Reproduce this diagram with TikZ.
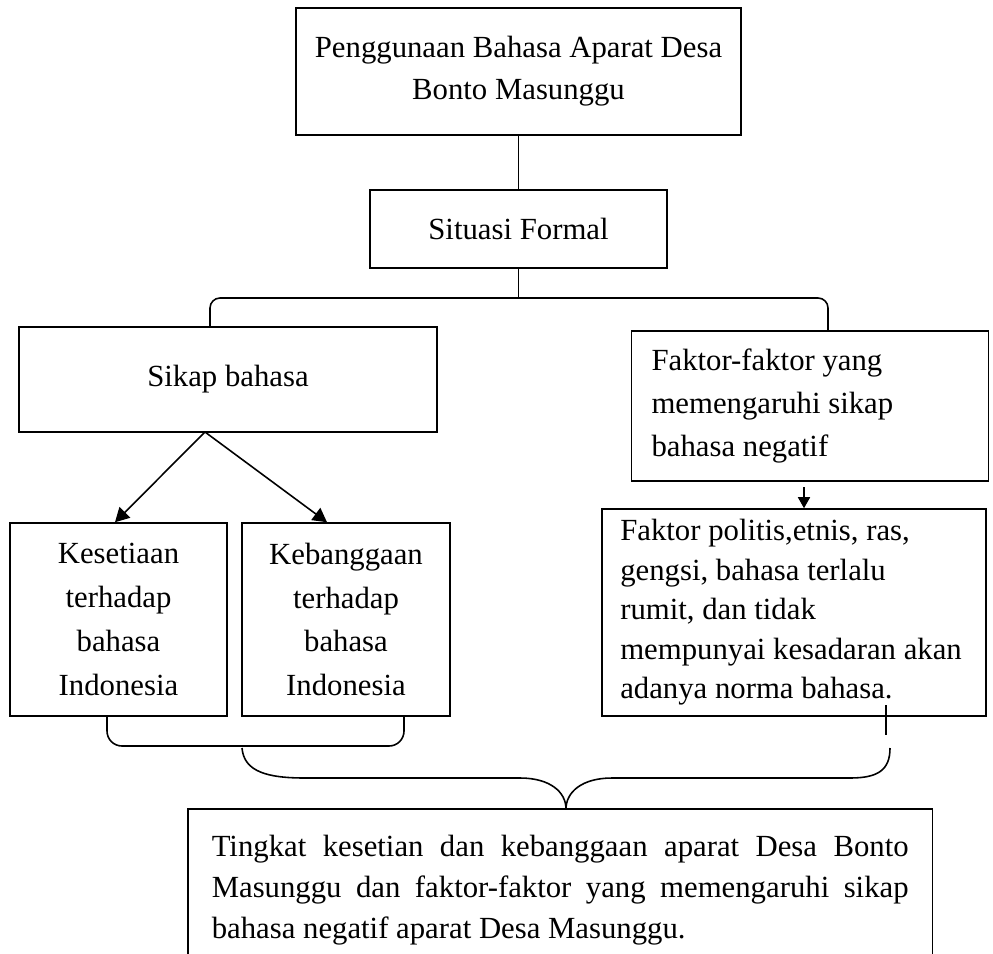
\documentclass[tikz,border=0pt]{standalone}
\usepackage{fontspec}
\setmainfont{Liberation Serif}
\usetikzlibrary{arrows.meta}

\tikzset{
  kotak/.style={draw, align=center, inner sep=0pt, font=\fontsize{17.5}{24}\selectfont},
  kiri/.style={draw, align=flush left, inner xsep=0.4cm, inner ysep=0pt, font=\fontsize{17.5}{23.5}\selectfont},
  panah/.style={-{Triangle[length=0.28cm,width=0.3cm]}},
  panahkecil/.style={-{Triangle[length=0.22cm,width=0.24cm]}}
}

\begin{document}
\begin{tikzpicture}[x=0.02cm, y=-0.02cm, line width=0.9pt]
\useasboundingbox (0,0) rectangle (993,953);
\node[kotak, minimum width=8.9cm, minimum height=2.54cm] (Judul) at (518.5,71.5) {Penggunaan Bahasa Aparat Desa\\Bonto Masunggu};
\node[kotak, minimum width=5.94cm, minimum height=1.56cm] (Situasi) at (518.5,229) {Situasi Formal};
\node[kotak, minimum width=8.36cm, minimum height=2.1cm] (Sikap) at (228,379.5) {Sikap bahasa};
\node[kiri, text width=6.34cm, minimum height=3cm, font=\fontsize{17.5}{24.5}\selectfont] (Faktor) at (810,406) {Faktor-faktor yang\\memengaruhi sikap\\bahasa negatif};
\node[kotak, minimum width=4.34cm, minimum height=3.86cm, font=\fontsize{17.5}{25}\selectfont] (Setia) at (118.5,619.5) {Kesetiaan\\terhadap\\bahasa\\Indonesia};
\node[kotak, minimum width=4.16cm, minimum height=3.86cm, font=\fontsize{17.5}{25}\selectfont] (Bangga) at (346,619.5) {Kebanggaan\\terhadap\\bahasa\\Indonesia};
\node[kiri, text width=6.95cm, inner xsep=0.365cm, minimum height=4.14cm, font=\fontsize{17.5}{22.5}\selectfont] (Politis) at (794,612.5) {Faktor politis,etnis, ras,\\gengsi, bahasa terlalu\\rumit, dan tidak\\mempunyai kesadaran akan\\adanya norma bahasa.};
\node[anchor=north west, text width=13.94cm, align=justify, inner xsep=0.46cm, inner ysep=0.5cm, font=\fontsize{17.5}{23.5}\selectfont] (Hasil) at (188,809) {Tingkat kesetian dan kebanggaan aparat Desa Bonto\linebreak Masunggu dan faktor-faktor yang memengaruhi sikap\linebreak bahasa negatif aparat Desa Masunggu.};
\draw (Hasil.north west |- 0,960) -- (Hasil.north west) -- (Hasil.north east) -- (Hasil.north east |- 0,960);

\coordinate (Cabang) at (518.5,298);
\coordinate (Puncak) at (205,432);
\coordinate (Panah) at (804,487);
\coordinate (Garis) at (886,705);
\coordinate (Ujung) at (566,809);

\draw (Judul.south) -- (Situasi.north);
\draw (Situasi.south) -- (Cabang);
\draw[rounded corners=0.2cm] (Sikap.north -| 210,0) |- (Cabang) -| (Faktor.north -| 828,0);
\draw[panah] (Puncak) -- (Setia.north -| 115,0);
\draw[panah] (Puncak) -- (Bangga.north -| 327,0);
\draw[panahkecil] (Panah) -- (Panah |- Politis.north);
\draw (Garis) -- ++(0,30);
\draw[rounded corners=0.3cm] (Setia.south -| 107,0) -- (107,746) -- (404,746) -- (Bangga.south -| 404,0);
\draw (242,748) .. controls (244,772) and (268,778) .. (305,778) -- (520,778) .. controls (550,778) and (566,792) .. (Ujung) .. controls (566,792) and (582,778) .. (612,778) -- (850,778) .. controls (878,778) and (890,770) .. (890,748);
\end{tikzpicture}
\end{document}
